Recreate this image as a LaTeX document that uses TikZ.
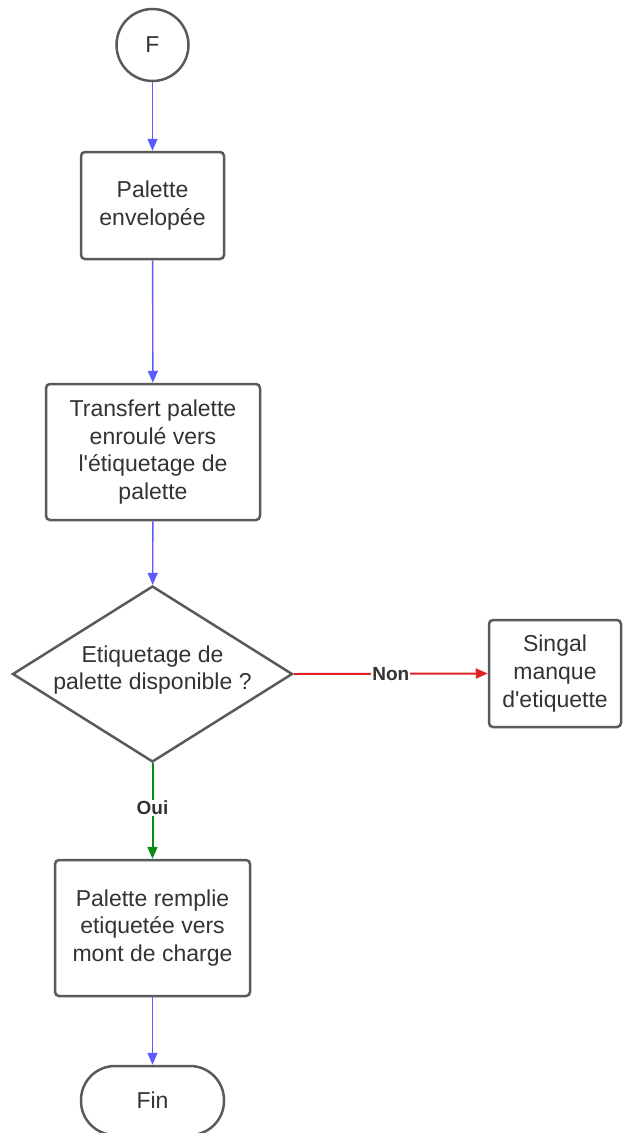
\documentclass[tikz,border=0pt]{standalone}
\usepackage{fontspec}
\setmainfont{Liberation Sans}[Ligatures=TeXOff]
\usetikzlibrary{shapes.geometric,arrows.meta}
\definecolor{bordergray}{HTML}{5A5A5A}
\definecolor{textgray}{HTML}{333333}
\definecolor{flowblue}{HTML}{5B5BFF}
\definecolor{flowred}{HTML}{E02424}
\definecolor{flowgreen}{HTML}{0A8A14}
\tikzset{
  box/.style={draw=bordergray, line width=2.5pt, rounded corners=4pt, fill=white,
    text=textgray, align=center, inner sep=0pt,
    font=\fontsize{23}{27.7}\selectfont},
  txt/.style={text=textgray, align=center, inner sep=0pt,
    font=\fontsize{23}{27.7}\selectfont},
  flow/.style={line width=1.4pt, -{Triangle[length=12pt,width=10pt]}},
  lbl/.style={fill=white, text=textgray, inner sep=1pt,
    font=\fontsize{19}{22}\selectfont\bfseries}
}
\begin{document}
\begin{tikzpicture}[x=1pt,y=-1pt]
\useasboundingbox (0,0) rectangle (622,1133);
\node[circle, draw=bordergray, line width=2.5pt, minimum size=72pt, inner sep=0pt, txt] (F) at (152.5,45) {F};
\node[box, minimum width=143pt, minimum height=107pt] (b1) at (152.5,205.5) {Palette\\envelopée};
\node[box, minimum width=214pt, minimum height=136pt] (b2) at (153,452) {Transfert palette\\enroulé vers\\l'étiquetage de\\palette};
\node[diamond, draw=bordergray, line width=2.5pt, minimum width=280pt, minimum height=176pt, inner sep=0pt] (d) at (152.5,674) {};
\node[txt] (dt) at (152.5,670) {Etiquetage de\\palette disponible ?};
\node[box, minimum width=132pt, minimum height=107pt] (b3) at (555,673.5) {Singal\\manque\\d'etiquette};
\node[box, minimum width=195pt, minimum height=136pt] (b4) at (152.5,928) {Palette remplie\\etiquetée vers\\mont de charge};
\node[draw=bordergray, line width=2.5pt, rounded corners=34pt, minimum width=143pt, minimum height=69pt, inner sep=0pt, txt] (fin) at (152.5,1100.5) {Fin};
\draw[flow, draw=flowblue, fill=flowblue] (F) -- (b1);
\draw[flow, draw=flowblue, fill=flowblue] (b1) -- (b2);
\draw[flow, draw=flowblue, fill=flowblue] (b2) -- (d);
\draw[flow, draw=flowred, fill=flowred, line width=2pt] (d.east) -- node[lbl, pos=0.5] {Non} (b3.west);
\draw[flow, draw=flowgreen, fill=flowgreen, line width=2pt] (d.south) -- node[lbl, pos=0.47] {Oui} (b4.north);
\draw[flow, draw=flowblue, fill=flowblue] (b4) -- (fin);
\end{tikzpicture}
\end{document}
